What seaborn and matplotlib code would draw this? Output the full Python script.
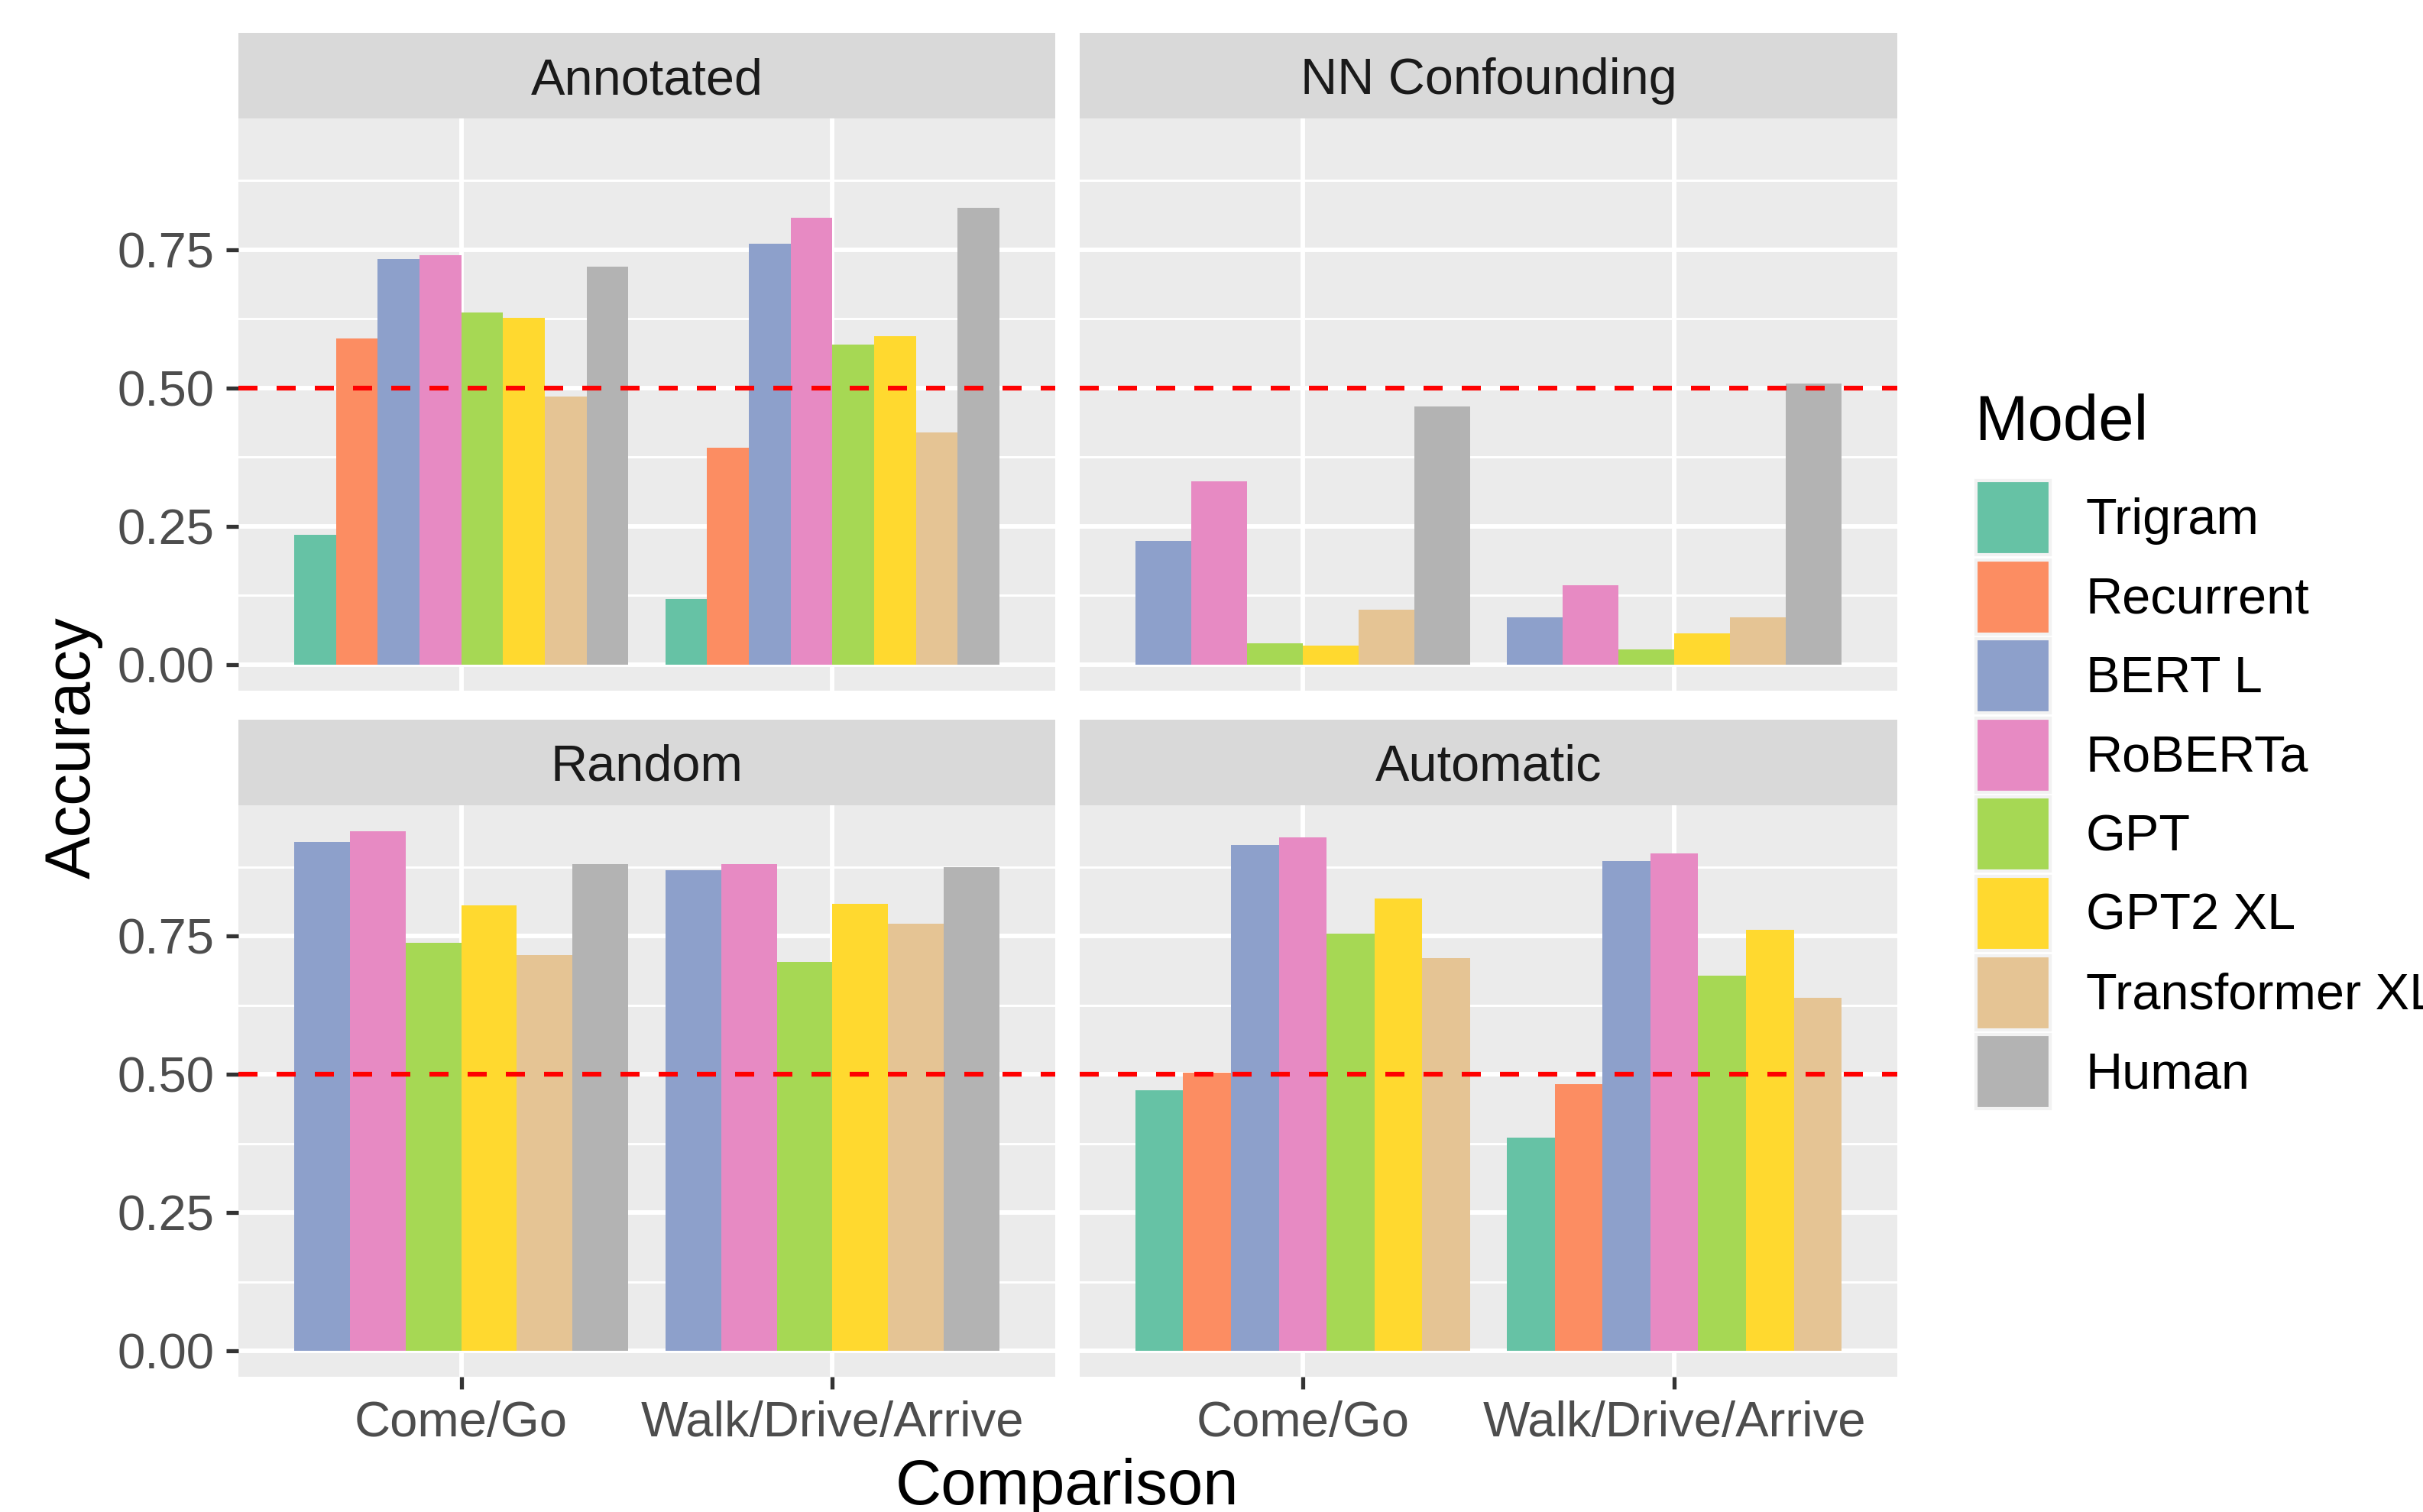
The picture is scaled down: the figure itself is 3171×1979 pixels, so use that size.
import numpy as np
import pandas as pd
import matplotlib
matplotlib.use("Agg")
import matplotlib.pyplot as plt
import seaborn as sns
from matplotlib.patches import Patch
from matplotlib.ticker import FixedLocator, StrMethodFormatter

# data (nan = model not evaluated in that condition)
nan = np.nan
models = ["Trigram", "Recurrent", "BERT L", "RoBERTa", "GPT", "GPT2 XL",
          "Transformer XL", "Human"]
comparisons = ["Come/Go", "Walk/Drive/Arrive"]
conditions = ["Annotated", "NN Confounding", "Random", "Automatic"]

annotated_come = [0.234, 0.590, 0.733, 0.740, 0.636, 0.626, 0.485, 0.719]
annotated_walk = [0.119, 0.392, 0.761, 0.808, 0.579, 0.593, 0.420, 0.825]
nn_come = [nan, nan, 0.223, 0.331, 0.038, 0.034, 0.099, 0.466]
nn_walk = [nan, nan, 0.086, 0.143, 0.028, 0.057, 0.086, 0.508]
random_come = [nan, nan, 0.921, 0.940, 0.738, 0.806, 0.716, 0.881]
random_walk = [nan, nan, 0.869, 0.881, 0.703, 0.809, 0.773, 0.875]
auto_come = [0.472, 0.503, 0.915, 0.929, 0.755, 0.819, 0.711, nan]
auto_walk = [0.385, 0.482, 0.886, 0.900, 0.679, 0.762, 0.639, nan]

values = {
    ("Annotated", "Come/Go"): annotated_come,
    ("Annotated", "Walk/Drive/Arrive"): annotated_walk,
    ("NN Confounding", "Come/Go"): nn_come,
    ("NN Confounding", "Walk/Drive/Arrive"): nn_walk,
    ("Random", "Come/Go"): random_come,
    ("Random", "Walk/Drive/Arrive"): random_walk,
    ("Automatic", "Come/Go"): auto_come,
    ("Automatic", "Walk/Drive/Arrive"): auto_walk,
}

rows = []
for (cond, comp), accs in values.items():
    for m, a in zip(models, accs):
        rows.append({"Condition": cond, "Comparison": comp, "Model": m, "Accuracy": a})
df = pd.DataFrame(rows).dropna()

palette = dict(zip(models, sns.color_palette("Set2", 8)))

plt.rcParams["font.family"] = ["Liberation Sans", "DejaVu Sans"]

W, H = 3171, 1979
fig = plt.figure(figsize=(W / 100, H / 100), dpi=100)


def fx(px):
    return px / W


def fy(px):
    return 1 - px / H


cols = [(312, 1381), (1413, 2483)]
panel_rows = [(155, 904), (1054, 1802)]
strip_rows = [(43, 155), (942, 1054)]

ymax = df["Accuracy"].max()
pad = 0.05 * ymax

for i, cond in enumerate(conditions):
    c, r = i % 2, i // 2
    x0, x1 = cols[c]
    y0, y1 = panel_rows[r]
    ax = fig.add_axes([fx(x0), fy(y1), (x1 - x0) / W, (y1 - y0) / H])
    sub = df[df["Condition"] == cond]
    present = [m for m in models if m in set(sub["Model"])]
    sns.barplot(data=sub, x="Comparison", y="Accuracy", hue="Model",
                order=comparisons, hue_order=present,
                palette=[palette[m] for m in present], width=0.9,
                saturation=1, errorbar=None, linewidth=0, legend=False, ax=ax)
    ax.axhline(0.5, color="red", lw=4.5, ls=(0, (4, 4)), zorder=5)

    ax.set_facecolor("#EBEBEB")
    ax.set_axisbelow(True)
    for s in ax.spines.values():
        s.set_visible(False)
    ax.set_xlim(-0.6, 1.6)
    ax.set_ylim(-pad, ymax + pad)
    ax.yaxis.set_major_locator(FixedLocator([0, 0.25, 0.5, 0.75]))
    ax.yaxis.set_minor_locator(FixedLocator([0.125, 0.375, 0.625, 0.875]))
    ax.yaxis.set_major_formatter(StrMethodFormatter("{x:.2f}"))
    ax.grid(which="major", color="white", lw=4.3)
    ax.grid(which="minor", axis="y", color="white", lw=2.15)
    ax.set_xlabel("")
    ax.set_ylabel("")
    ax.tick_params(which="minor", length=0)
    ax.tick_params(which="major", length=11.5, width=3.8, color="#333333",
                   labelcolor="#4D4D4D", labelsize=47, pad=11)
    if c == 1:
        ax.tick_params(axis="y", length=0, labelleft=False)
    if r == 0:
        ax.tick_params(axis="x", length=0, labelbottom=False)

    # facet strip
    sy0, sy1 = strip_rows[r]
    sax = fig.add_axes([fx(x0), fy(sy1), (x1 - x0) / W, (sy1 - sy0) / H])
    sax.set_facecolor("#D9D9D9")
    sax.set_xticks([])
    sax.set_yticks([])
    for s in sax.spines.values():
        s.set_visible(False)
    sax.text(0.5, 0.5, cond, ha="center", va="center_baseline",
             fontsize=48, color="#1A1A1A", transform=sax.transAxes)

fig.text(fx(1397), fy(1969), "Comparison", fontsize=60, ha="center", va="baseline")
fig.text(fx(118), fy(979), "Accuracy", fontsize=60, rotation=90,
         rotation_mode="anchor", ha="center", va="baseline")

fig.text(fx(2584), fy(576), "Model", fontsize=60, ha="left", va="baseline")
handles = [Patch(facecolor=palette[m], edgecolor="#F2F2F2", linewidth=3, label=m)
           for m in models]
fig.legend(handles=handles, loc="upper left", bbox_to_anchor=(fx(2586), fy(629)),
           frameon=False, fontsize=48, handlelength=1.455, handleheight=1.86,
           labelspacing=0.1, handletextpad=0.7, borderpad=0, borderaxespad=0)

fig.savefig("out.png", dpi=100)
